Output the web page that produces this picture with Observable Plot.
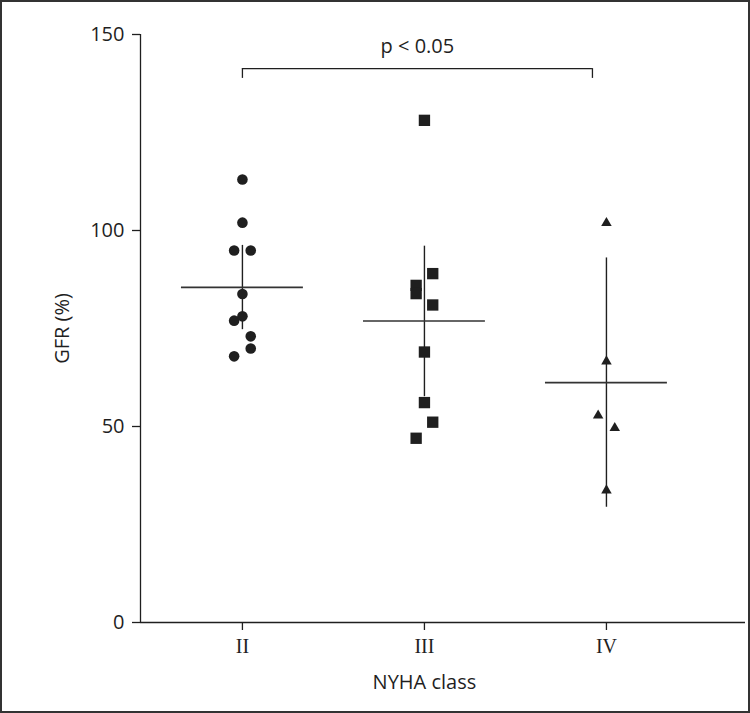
<!DOCTYPE html>
<html>
<head>
<meta charset="utf-8">
<script src="https://cdn.jsdelivr.net/npm/d3@7"></script>
<script src="https://cdn.jsdelivr.net/npm/@observablehq/plot@0.6"></script>
<style>
  html, body { margin: 0; padding: 0; background: #fff; }
  #wrap { position: relative; width: 750px; height: 713px; overflow: hidden; }
  #wrap svg { position: absolute; left: 0; top: 0; }
  #border { position: absolute; left: 0; top: 0; width: 750px; height: 713px; box-sizing: border-box; border: 2px solid #333; pointer-events: none; }
</style>
</head>
<body>
<div id="wrap"><div id="border"></div></div>
<script>
// Categories (NYHA class) and their index on the x axis
const categories = ["II", "III", "IV"];
const yTicks = [0, 50, 100, 150];

const gfrII  = [113.0, 102.0, 94.9, 94.9, 83.8, 78.1, 77.0, 73.0, 69.9, 67.9];
const sideII = [0, 0, -1, 1, 0, 0, -1, 1, 1, -1];
const gfrIII  = [128.1, 89.0, 86.0, 83.9, 81.0, 69.0, 56.1, 51.1, 47.0];
const sideIII = [0, 1, -1, -1, 1, 0, 0, 1, -1];
const gfrIV  = [101.9, 66.6, 52.8, 49.6, 33.7];
const sideIV = [0, 0, -1, 1, 0];

// Group summaries (mean and 95% CI)
const means = [85.5, 76.9, 61.2];
const ciLow = [74.7, 57.6, 29.4];
const ciHigh = [96.2, 96.0, 93.0];

// Significance bracket
const bracketFrom = "II", bracketTo = "IV", bracketLabel = "p < 0.05";
const bracketY = 141.3, bracketLegY = 138.8, bracketTextY = 147.0;

const idx = c => categories.indexOf(c) + 1;
const symbols = ["circle", "square", "triangle"];
const radii = [5.3, 6.4, 3.9];

const points = [];
[[gfrII, sideII], [gfrIII, sideIII], [gfrIV, sideIV]].forEach(([vals, sides], g) => {
  vals.forEach((v, i) => points.push({g: g + 1, cat: categories[g], v, side: sides[i]}));
});
const summary = categories.map((c, i) => ({g: i + 1, mean: means[i], lo: ciLow[i], hi: ciHigh[i]}));

const xMin = 0.44, xMax = 3.764;
const halfW = 0.335;
const ink = "#1f1f1f";
const sans = "'Open Sans', sans-serif";

const dotMarks = [];
for (const s of [-1, 0, 1]) {
  for (let g = 0; g < 3; g++) {
    dotMarks.push(Plot.dot(points.filter(d => d.side === s && d.g === g + 1), {
      x: "g", y: "v", symbol: () => symbols[g], r: radii[g], fill: ink, stroke: "none", dx: s * 8.3
    }));
  }
}

const plot = Plot.plot({
  width: 750,
  height: 713,
  marginLeft: 140,
  marginRight: 5,
  marginTop: 34,
  marginBottom: 91,
  style: {fontFamily: sans, color: ink, background: "transparent"},
  x: {type: "linear", domain: [xMin, xMax], axis: null},
  y: {domain: [0, 150], axis: null},
  symbol: {type: "identity"},
  marks: [
    // axes lines
    Plot.ruleX([xMin], {y1: 0, y2: 150, stroke: ink, strokeWidth: 1.3}),
    Plot.ruleY([0], {stroke: ink, strokeWidth: 1.3}),
    Plot.axisY({ticks: yTicks, tickSize: 8, tickPadding: 8, fontSize: 20, fontFamily: sans, stroke: ink, fill: ink, label: null, strokeWidth: 1.3}),
    Plot.axisX({ticks: [1, 2, 3], tickFormat: d => categories[d - 1], tickSize: 8, tickPadding: 8, fontSize: 20,
      fontFamily: "'Liberation Serif', 'DejaVu Serif', serif", stroke: ink, fill: ink, label: null, strokeWidth: 1.3}),
    Plot.text(["GFR (%)"], {frameAnchor: "left", textAnchor: "middle", rotate: -90, dx: -78, fontSize: 20, fontFamily: sans, fill: ink}),
    Plot.text(["NYHA class"], {x: idx("III"), y: 0, dy: 60, fontSize: 20, fontFamily: sans, fill: ink}),
    // CI bars and mean lines
    Plot.ruleX(summary, {x: "g", y1: "lo", y2: "hi", stroke: ink, strokeWidth: 1.4}),
    Plot.ruleY(summary, {y: "mean", x1: d => d.g - halfW, x2: d => d.g + halfW, stroke: "#333", strokeWidth: 1.6}),
    // points
    ...dotMarks,
    // significance bracket
    Plot.ruleY([bracketY], {x1: idx(bracketFrom), x2: idx(bracketTo), insetRight: 14, stroke: ink, strokeWidth: 1.3}),
    Plot.ruleX([idx(bracketFrom)], {y1: bracketLegY, y2: bracketY, stroke: ink, strokeWidth: 1.3}),
    Plot.ruleX([idx(bracketTo)], {y1: bracketLegY, y2: bracketY, dx: -14, stroke: ink, strokeWidth: 1.3}),
    Plot.text([bracketLabel], {x: (idx(bracketFrom) + idx(bracketTo)) / 2, y: bracketTextY, dx: -7, fontSize: 20, fontFamily: sans, fill: ink})
  ]
});
document.getElementById("wrap").prepend(plot);
</script>
</body>
</html>
